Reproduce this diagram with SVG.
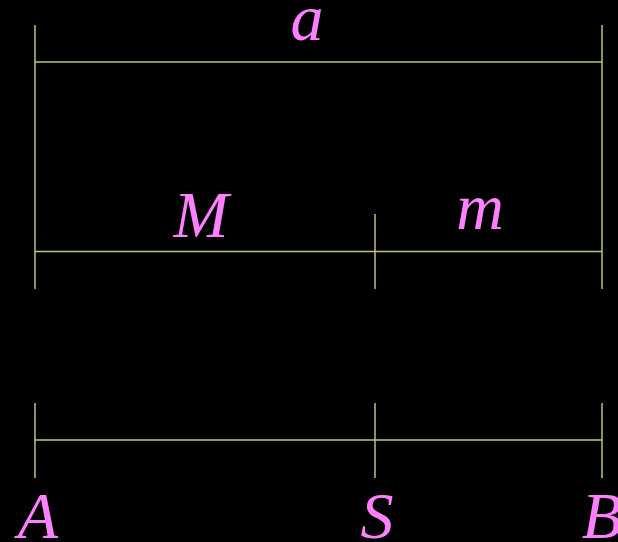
<svg xmlns="http://www.w3.org/2000/svg" width="618" height="542" viewBox="0 0 618 542">
<style>
.ln{stroke:#c2c27a;stroke-width:1.5;fill:none}
.lb{fill:#ff80ff;font-family:"Liberation Serif","DejaVu Serif",serif;font-style:italic;font-size:66px;text-anchor:middle}
</style>
<rect width="618" height="542" fill="#000"/>
<g id="connectors">
<line class="ln" x1="35" y1="25" x2="35" y2="289"/>
<line class="ln" x1="602" y1="25" x2="602" y2="289"/>
<line class="ln" x1="35" y1="62" x2="602" y2="62"/>
<line class="ln" x1="35" y1="251.5" x2="602" y2="251.5"/>
<line class="ln" x1="375" y1="214" x2="375" y2="289"/>
<line class="ln" x1="35" y1="440" x2="602" y2="440"/>
<line class="ln" x1="35" y1="403" x2="35" y2="478"/>
<line class="ln" x1="375" y1="403" x2="375" y2="478"/>
<line class="ln" x1="602" y1="403" x2="602" y2="478"/>
</g>
<g id="label-a"><text class="lb" x="307" y="40">a</text></g>
<g id="label-M"><text class="lb" x="201" y="237">M</text></g>
<g id="label-m"><text class="lb" x="480" y="229">m</text></g>
<g id="label-A"><text class="lb" x="38" y="538">A</text></g>
<g id="label-S"><text class="lb" x="377" y="538">S</text></g>
<g id="label-B"><text class="lb" x="602" y="538">B</text></g>
</svg>
